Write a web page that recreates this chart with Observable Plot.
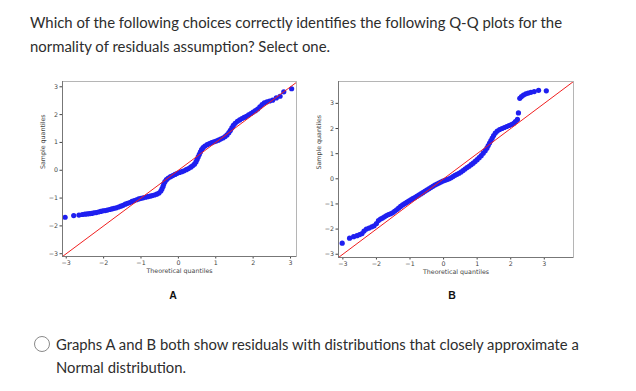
<!DOCTYPE html>
<html>
<head>
<meta charset="utf-8">
<script src="https://cdn.jsdelivr.net/npm/d3@7"></script>
<script src="https://cdn.jsdelivr.net/npm/@observablehq/plot@0.6"></script>
<style>
  html, body { margin: 0; padding: 0; background: #fff; }
  body { width: 636px; height: 391px; position: relative; overflow: hidden; font-family: Lato, "Noto Sans", sans-serif; color: #2d2d2d; }
  .abs { position: absolute; }
  #title { left: 30px; top: 10px; font-size: 14.9px; line-height: 24px; white-space: nowrap; }
  #plotA { left: 20px; top: 75px; }
  #plotB { left: 298px; top: 75px; }
  .lab { font-family: "Liberation Sans", Arial, sans-serif; font-weight: bold; font-size: 10.5px; color: #111; transform: translateX(-50%); }
  #radio { left: 34px; top: 336px; width: 14px; height: 14px; border: 1.3px solid #8a8a8a; border-radius: 50%; }
  #opt { left: 56px; top: 333px; font-size: 14.8px; line-height: 23px; white-space: nowrap; }
</style>
</head>
<body>
<div id="title" class="abs">Which of the following choices correctly identifies the following Q-Q plots for the<br>normality of residuals assumption? Select one.</div>
<div id="plotA" class="abs"></div>
<div id="plotB" class="abs"></div>
<div class="abs lab" style="left:173px; top:289px;">A</div>
<div class="abs lab" style="left:452px; top:289px;">B</div>
<div id="radio" class="abs"></div>
<div id="opt" class="abs">Graphs A and B both show residuals with distributions that closely approximate a<br>Normal distribution.</div>
<script>
// ---- data ----
const ticks = [-3, -2, -1, 0, 1, 2, 3];
const refLine = [-4, 4];

const aDomainX = [-3.1, 3.16];
const aDomainY = [-3.1, 3.19];
const aTheo = [-3.03,-2.8,-2.66,-2.57,-2.5,-2.44,-2.38,-2.32,-2.26,-2.2,-2.14,-2.08,-2.02,-1.96,-1.9,-1.84,-1.78,-1.72,-1.66,-1.6,-1.54,-1.48,-1.42,-1.36,-1.3,-1.24,-1.18,-1.12,-1.06,-1.0,-0.94,-0.88,-0.82,-0.76,-0.7,-0.64,-0.58,-0.52,-0.47,-0.44,-0.41,-0.39,-0.36,-0.32,-0.27,-0.21,-0.15,-0.09,-0.03,0.03,0.09,0.15,0.21,0.27,0.33,0.38,0.43,0.47,0.5,0.53,0.56,0.59,0.62,0.66,0.71,0.77,0.83,0.89,0.95,1.01,1.07,1.13,1.19,1.25,1.3,1.35,1.39,1.43,1.47,1.52,1.58,1.64,1.7,1.76,1.82,1.88,1.94,2.0,2.06,2.12,2.18,2.24,2.3,2.37,2.44,2.52,2.62,2.72,2.82,3.03];
const aSample = [-1.69,-1.63,-1.61,-1.59,-1.58,-1.57,-1.56,-1.55,-1.53,-1.52,-1.5,-1.48,-1.46,-1.45,-1.43,-1.41,-1.39,-1.37,-1.35,-1.32,-1.29,-1.26,-1.22,-1.19,-1.16,-1.12,-1.09,-1.06,-1.03,-1.01,-0.99,-0.97,-0.95,-0.93,-0.91,-0.89,-0.86,-0.82,-0.75,-0.67,-0.58,-0.49,-0.41,-0.34,-0.28,-0.23,-0.19,-0.15,-0.11,-0.08,-0.05,-0.02,0.02,0.06,0.11,0.16,0.22,0.3,0.39,0.48,0.57,0.66,0.74,0.81,0.87,0.92,0.96,0.99,1.02,1.05,1.08,1.12,1.16,1.21,1.27,1.35,1.43,1.52,1.61,1.69,1.76,1.81,1.86,1.9,1.94,1.99,2.04,2.09,2.14,2.2,2.28,2.36,2.42,2.46,2.49,2.52,2.6,2.66,2.82,2.93];

const bDomainX = [-3.13, 3.87];
const bDomainY = [-3.13, 3.87];
const bTheo = [-3.02,-2.8,-2.68,-2.58,-2.5,-2.43,-2.37,-2.3,-2.22,-2.14,-2.07,-2.0,-1.94,-1.88,-1.82,-1.76,-1.7,-1.64,-1.58,-1.52,-1.46,-1.4,-1.34,-1.28,-1.22,-1.16,-1.1,-1.04,-0.98,-0.92,-0.86,-0.8,-0.74,-0.68,-0.62,-0.56,-0.5,-0.44,-0.38,-0.32,-0.26,-0.2,-0.14,-0.08,-0.02,0.04,0.1,0.16,0.22,0.28,0.34,0.4,0.46,0.52,0.58,0.64,0.7,0.76,0.82,0.88,0.94,1.0,1.06,1.12,1.18,1.24,1.29,1.33,1.37,1.41,1.45,1.49,1.54,1.6,1.67,1.74,1.81,1.88,1.95,2.02,2.09,2.14,2.2,2.23,2.27,2.32,2.38,2.45,2.52,2.6,2.7,2.83,3.06];
const bSample = [-2.56,-2.36,-2.3,-2.26,-2.22,-2.18,-2.08,-2.0,-1.96,-1.91,-1.87,-1.78,-1.66,-1.6,-1.56,-1.51,-1.46,-1.42,-1.39,-1.35,-1.29,-1.23,-1.17,-1.1,-1.04,-0.99,-0.94,-0.89,-0.84,-0.79,-0.75,-0.7,-0.65,-0.6,-0.55,-0.5,-0.45,-0.4,-0.35,-0.3,-0.25,-0.21,-0.17,-0.13,-0.09,-0.06,-0.03,0.0,0.04,0.09,0.14,0.18,0.22,0.27,0.33,0.39,0.45,0.5,0.56,0.62,0.69,0.76,0.84,0.92,1.02,1.12,1.22,1.32,1.42,1.52,1.62,1.72,1.82,1.9,1.96,2.0,2.04,2.08,2.12,2.16,2.21,2.28,2.36,2.62,3.2,3.27,3.33,3.38,3.41,3.44,3.47,3.52,3.5];

const blue = "#1f1ff0";
const fmt = d3.format("d");

function qq(theo, sample, dx, dy, margins) {
  const pts = theo.map((t, i) => ({t, s: sample[i]}));
  const line = refLine.map(v => ({v}));
  return Plot.plot({
    width: 285,
    height: 205,
    marginLeft: margins[0],
    marginRight: margins[1],
    marginTop: margins[2],
    marginBottom: margins[3],
    style: {fontFamily: "'DejaVu Sans', sans-serif", fontSize: "6.3px", color: "#444", background: "white", overflow: "visible"},
    x: {domain: dx, ticks: ticks, tickSize: 2.5, tickPadding: 2, tickFormat: fmt, label: null},
    y: {domain: dy, ticks: ticks, tickSize: 2.5, tickPadding: 2, tickFormat: fmt, label: null},
    marks: [
      Plot.dot(pts, {x: "t", y: "s", r: 2.6, fill: blue, stroke: "none"}),
      Plot.line(line, {x: "v", y: "v", stroke: "#f02020", strokeWidth: 1, clip: true}),
      Plot.frame({stroke: "#b5b5b5", strokeWidth: 1}),
      Plot.ruleX([dx[0]], {stroke: "#777", strokeWidth: 1}),
      Plot.ruleY([dy[0]], {stroke: "#777", strokeWidth: 1}),
      Plot.text(["Theoretical quantiles"], {text: d => d, frameAnchor: "bottom", dy: 16, fill: "#444", fontSize: 6.3}),
      Plot.text(["Sample quantiles"], {text: d => d, frameAnchor: "left", dx: -20, rotate: -90, fill: "#444", fontSize: 6.3})
    ]
  });
}

document.getElementById("plotA").append(qq(aTheo, aSample, aDomainX, aDomainY, [42, 9, 6, 24]));
document.getElementById("plotB").append(qq(bTheo, bSample, bDomainX, bDomainY, [40, 10, 6, 23]));
</script>
</body>
</html>
